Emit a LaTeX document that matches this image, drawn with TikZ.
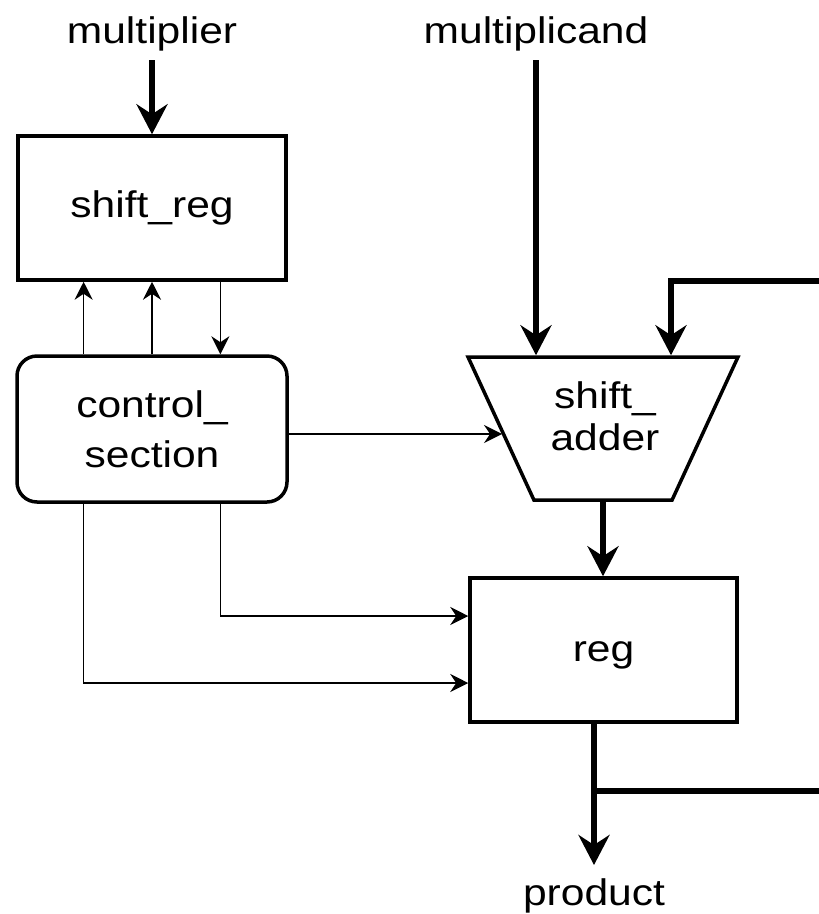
\documentclass[tikz,border=0pt]{standalone}
\usepackage{fontspec}
\setmainfont{Liberation Sans}
\usetikzlibrary{arrows.meta,shapes.geometric,calc}
\newcommand\wide[1]{\scalebox{1.15}[1]{#1}}
\begin{document}
\begin{tikzpicture}[x=1pt,y=-1pt,
  font=\fontsize{37}{42}\selectfont,
  box/.style={draw, line width=3.5pt, inner sep=0pt},
  bigarrow/.style={line width=5.5pt, -{Stealth[length=30pt,width=31pt,inset=10pt]}},
  smallarrow/.style={line width=1.7pt, -{Stealth[length=18pt,width=18pt,inset=6pt]}},
]
\clip (0,0) rectangle (819,914);
\node[anchor=base] (mulr) at (152,43) {\wide{multiplier}};
\node[anchor=base] (mcand) at (536,43) {\wide{multiplicand}};
\node[box, minimum width=268pt, minimum height=144pt] (shreg) at (152,208) {\wide{shift\_reg}};
\node[box, rounded corners=20pt, minimum width=270pt, minimum height=146pt, align=center, font=\fontsize{37}{50}\selectfont] (ctrl) at (152,429) {\wide{control\_}\\\wide{section}};
\node[box, inner sep=2pt, trapezium, shape border rotate=180, trapezium left angle=64.5, trapezium right angle=64.5, trapezium stretches=true, minimum width=270pt, minimum height=143pt] (adder) at (603,428.5) {};
\node[align=center, inner sep=0pt] (adderlbl) at (605,416) {\wide{shift\_}\\\wide{adder}};
\node[box, minimum width=267pt, minimum height=144pt, text height=30pt, text depth=8pt] (reg) at (603.5,650) {\wide{reg}};
\node[anchor=base] (prod) at (594,905) {\wide{product}};
% thick data paths
\coordinate (fb) at (671,281);
\coordinate (tap) at (594,791);
\coordinate (offR) at (840,0);
\draw[bigarrow] ([yshift=-17pt]mulr.base) -- (shreg.north);
\draw[bigarrow] ([yshift=-17pt]mcand.base) -- (mcand.base |- adder.north);
\draw[bigarrow] (tap) -- (tap -| offR) |- (fb) -- (fb |- adder.north);
\draw[bigarrow] (adder.south) -- (adder.south |- reg.north);
\draw[bigarrow] (tap |- reg.south) -- ([yshift=40pt]prod.base);
% control paths
\coordinate (q1) at ($(ctrl.north west)!0.25!(ctrl.north east)$);
\coordinate (q2) at (ctrl.north);
\coordinate (q3) at ($(ctrl.north west)!0.75!(ctrl.north east)$);
\draw[smallarrow] (q1) -- (q1 |- shreg.south);
\draw[smallarrow] (q2) -- (q2 |- shreg.south);
\draw[smallarrow] (q3 |- shreg.south) -- (q3);
\draw[smallarrow] (q3 |- ctrl.south) |- ([yshift=34pt]reg.west);
\draw[smallarrow] (q1 |- ctrl.south) |- ([yshift=-33pt]reg.west);
\coordinate (cport) at ([yshift=-5pt]ctrl.east);
\draw[smallarrow] (cport) -- ($(cport -| adder.west)+(3,0)$);
\end{tikzpicture}
\end{document}
